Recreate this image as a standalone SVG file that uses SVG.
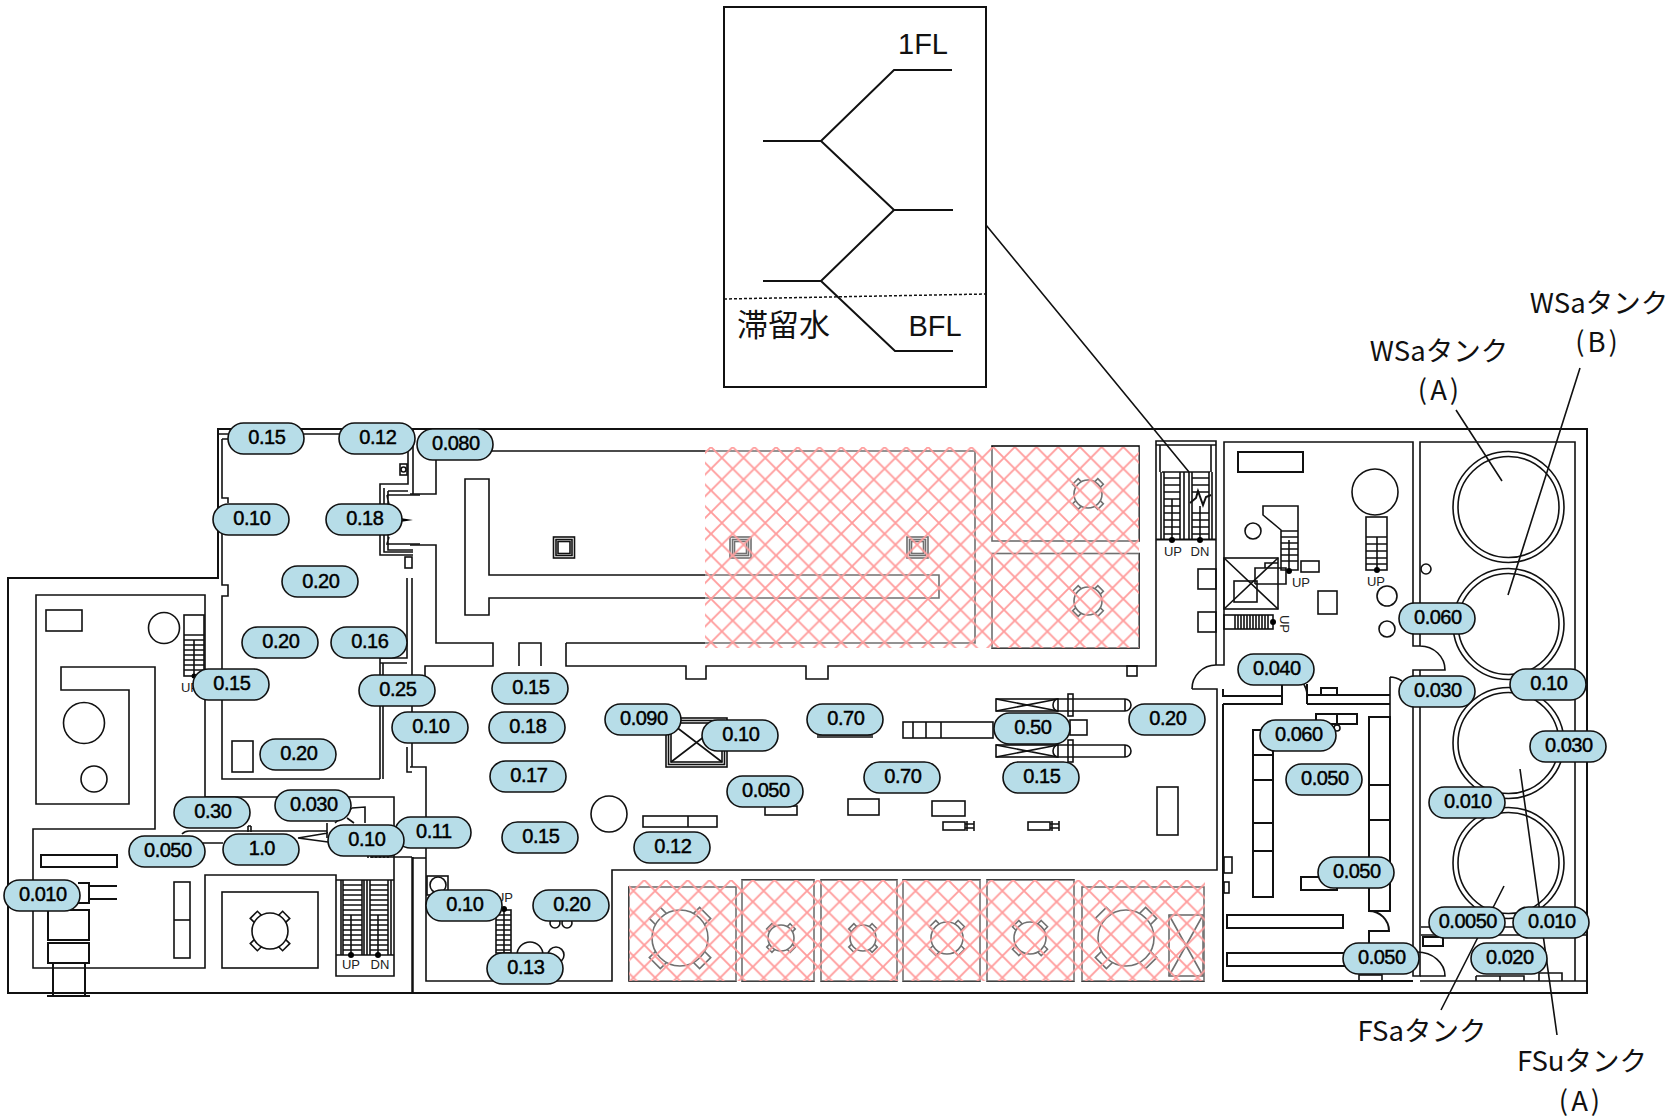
<svg xmlns="http://www.w3.org/2000/svg" width="1672" height="1119" viewBox="0 0 1672 1119">
<style>
.l{fill:none;stroke:#111;stroke-width:1.6}
.h{fill:none;stroke:#111;stroke-width:2}
.w{fill:#fff;stroke:#111;stroke-width:1.5}
.d{fill:#000}
.n{fill:none;stroke:#111;stroke-width:1.6;vector-effect:non-scaling-stroke}
.c{fill:#fff;stroke:#111;stroke-width:1.6;vector-effect:non-scaling-stroke}
.p{fill:#b7dde8;stroke:#111;stroke-width:1.6}
.t{font-family:"Liberation Sans",Arial,sans-serif;font-size:20px;fill:#000;stroke:#000;stroke-width:.45;text-anchor:middle;letter-spacing:-.5px;transform:translate(.8px,-.6px)}
.s{font-family:"Liberation Sans",Arial,sans-serif;font-size:13px;fill:#222;text-anchor:middle}
.j{font-family:"Noto Sans CJK JP","Liberation Sans",sans-serif;font-size:27.500px;fill:#111;text-anchor:middle}
.k{font-family:"Liberation Sans","Noto Sans CJK JP",sans-serif;font-size:29px;fill:#111;text-anchor:middle}
</style>
<defs>
<pattern id="x" width="21.700" height="21.700" patternUnits="userSpaceOnUse" x="711" y="447">
<path d="M0 21.700L21.700 0M0 0L21.700 21.700" fill="none" stroke="#ff9c9c" stroke-width="1.900"/>
</pattern>
<pattern id="y" width="21.700" height="21.700" patternUnits="userSpaceOnUse" x="1100" y="880">
<path d="M0 21.700L21.700 0M0 0L21.700 21.700" fill="none" stroke="#ff9c9c" stroke-width="1.900"/>
</pattern>
<g id="pump">
<g><rect x="-.28" y="-1.27" width=".56" height=".37" class="n" transform="rotate(45)"/><rect x="-.28" y="-1.27" width=".56" height=".37" class="n" transform="rotate(135)"/><rect x="-.28" y="-1.27" width=".56" height=".37" class="n" transform="rotate(225)"/><rect x="-.28" y="-1.27" width=".56" height=".37" class="n" transform="rotate(315)"/></g>
<circle r="1" class="c"/>
</g>
<g id="col"><rect width="21" height="21" class="l"/><rect x="2.500" y="2.500" width="16" height="16" class="l"/><rect x="4.500" y="4.500" width="12" height="12" class="l"/></g>
<g id="mot">
<rect width="62" height="12" class="l"/><path d="M0 0L62 12M0 12L62 0" class="l"/>
<path d="M62 0H129M62 12H129M129 0A6 6 0 0 1 129 12V0" class="l"/><path d="M62 0A5 6 0 0 0 62 12" class="l"/>
<rect x="72" y="-5" width="5" height="22" class="l"/>
</g>
<g id="syr"><rect width="22" height="8" class="l"/><path d="M22 2H31M22 6H31M24 -1V9M31 -1V9" class="l"/></g>
</defs>

<g id="building">
<path class="h" d="M8 578H218V429H1587V993H8Z"/>
<path d="M412.500 857V993" stroke="#111" stroke-width="2.500" fill="none"/>
<path class="l" d="M218 434H413M222 439V498H228V503M222 519V585H228V596H222V779H380M228 439H222M413 430V494M408 434V484H380V555H413M384 488V552H413M388 491H408M387 495H420M387 495L389 505M389 537L387 544H420M388 491V550H413"/>
<path class="d" d="M400 518L413 520L400 522Z"/>
<rect x="400" y="464" width="7" height="11" class="l"/><circle cx="403.500" cy="469.500" r="2.500" class="l"/>
<rect x="405" y="557" width="7" height="11" class="l"/>
<path class="l" d="M407 578V658H380V779M412 578V767M383 663V779M380 663H407M407 747V772H412"/>
<rect x="232" y="741" width="21" height="31" class="l"/>
<path class="l" d="M36 595H205V797H394V976H336V875H205V968H33V829H155V667H61V690H129V804H36Z"/>
<rect x="46" y="610" width="36" height="21" class="l"/>
<circle cx="164" cy="628" r="15.500" class="l"/><circle cx="84" cy="723" r="20.500" class="l"/><circle cx="94" cy="779" r="13" class="l"/>
<rect x="184" y="615" width="20" height="61" class="l"/>
<path class="l" d="M184 635H204M184 640H204M184 645H204M184 650H204M184 655H204M184 660H204M184 665H204M184 670H204M194 640V676"/>
<circle cx="194" cy="676" r="2.500" class="d"/>
<text x="190" y="692" class="s">UP</text>
<rect x="41" y="855" width="76" height="12" class="h"/>
<path class="h" d="M78 883H89V903H78M89 886H117M89 899H117"/>
<rect x="48" y="910" width="41" height="30" class="h"/><rect x="48" y="943" width="41" height="20" class="h"/>
<path class="h" d="M53 963V996M85 963V996M47 996H90"/>
<rect x="174" y="882" width="16" height="76" class="l"/><path class="l" d="M174 920H190"/>
<rect x="222" y="892" width="96" height="76" class="l"/>
<use href="#pump" transform="translate(270 931) scale(18)"/>
<path class="l" d="M336 880H394M336 955H394M341 880V955M343 880V955M362 880V955M364 880V955M367 880V955M370 880V955M388 880V955M391 880V955"/>
<path class="l" d="M343 885H362M343 890H362M343 895H362M343 900H362M343 905H362M343 910H362M343 915H362M343 920H362M343 925H362M343 930H362M343 935H362M343 940H362M343 945H362M343 950H362M370 885H388M370 890H388M370 895H388M370 900H388M370 905H388M370 910H388M370 915H388M370 920H388M370 925H388M370 930H388M370 935H388M370 940H388M370 945H388M370 950H388M351 915V955M378 915V955"/>
<circle cx="351" cy="955" r="3" class="d"/><circle cx="378" cy="955" r="3" class="d"/>
<text x="351" y="969" class="s">UP</text><text x="380" y="969" class="s">DN</text>
<path class="l" d="M182 834Q185 831 189 831H327V838M203 843H223M298 838L328 833M298 838L328 842M327 823V831M352 808L365 807V823M347 818L354 823M352 808L335 823M370 857H412M248 826V832M251 826V832M248 826H251"/>
<path d="M368 855V858M372 855V858M376 855V858M380 855V858M384 855V858M388 855V858" class="l"/>
<path class="l" d="M436 451V494H410M410 545H436V643H493V666H425V680M519 666V643H541V666M566 643V666H686V679H706V666H806V679H828V666H1156V441H1216V665M566 643H975V451H436"/>
<path class="l" d="M465 479H489V575H939V598H489V615H465Z"/>
<use href="#col" x="553.500" y="537"/><use href="#col" x="730" y="537"/><use href="#col" x="907" y="537"/>
<rect x="992" y="446" width="147" height="95" class="l"/><rect x="992" y="553.500" width="147" height="94.500" class="l"/>
<use href="#pump" transform="translate(1088 494) scale(14)"/><use href="#pump" transform="translate(1088 601) scale(14)"/>
<rect x="1127" y="666" width="10" height="10" class="l"/>
<path class="l" d="M1156 445H1216M1160 445V472M1211 445V472M1162 472H1210M1161 472V539M1164 472V539M1180 472V539M1184 472V539M1189 472V539M1192 472V539M1209 472V539M1212 472V539"/>
<path class="l" d="M1164 478H1180M1164 485H1180M1164 492H1180M1164 499H1180M1164 506H1180M1164 513H1180M1164 520H1180M1164 527H1180M1164 534H1180M1192 478H1209M1192 485H1209M1192 492H1209M1192 513H1209M1192 520H1209M1192 527H1209M1192 534H1209M1172 499V539M1200 506V539"/>
<path class="h" d="M1190 503L1196 498L1198 491L1203 505L1206 497L1211 495M1156 539.500H1216"/>
<circle cx="1172" cy="540" r="3" class="d"/><circle cx="1200" cy="540" r="3" class="d"/>
<text x="1173" y="556" class="s">UP</text><text x="1200" y="556" class="s">DN</text>
<rect x="1198" y="569" width="18" height="20" class="l"/><rect x="1198" y="612" width="18" height="20" class="l"/>
<path class="l" d="M1216 665H1224V442H1413V646H1420V442H1575V981M1413 646H1420A25 24 0 0 1 1445 670H1413V976H1420V670M1192 689H1217V870H612V981H426V767H410M426 858H413"/>
<path class="l" d="M1216 665A24 24 0 0 0 1192 689"/>
<rect x="427" y="876" width="21" height="19" class="l"/><circle cx="438" cy="885" r="8" class="l"/>
<rect x="496" y="910" width="15" height="43" class="l"/>
<path class="l" d="M496 915H511M496 920H511M496 925H511M496 930H511M496 935H511M496 940H511M496 945H511M496 950H511M504 910V953"/>
<circle cx="504" cy="909" r="3" class="d"/><text x="504" y="902" class="s">UP</text>
<circle cx="555" cy="923" r="5" class="l"/><circle cx="567" cy="923" r="5" class="l"/><circle cx="530" cy="955" r="13" class="l"/><circle cx="556" cy="955" r="8" class="l"/>
<circle cx="609" cy="814" r="18" class="l"/>
<rect x="643" y="816" width="74" height="11" class="l"/><path class="l" d="M688 816V827"/>
<rect x="765" y="806" width="32" height="9" class="l"/>
<rect x="666" y="718" width="61" height="49" class="l"/><rect x="668.500" y="720.500" width="56" height="44" class="l"/><rect x="671" y="723" width="51" height="39" class="l"/><path class="l" d="M671 723L722 762M671 762L722 723"/>
<path class="l" d="M817 737H873M817 735H873"/>
<rect x="848" y="799" width="31" height="16" class="l"/><rect x="932" y="801" width="33" height="15" class="l"/>
<use href="#syr" x="943" y="822"/><use href="#syr" x="1028" y="822"/>
<rect x="1157" y="787" width="21" height="48" class="l"/>
<use href="#mot" x="996" y="699"/><use href="#mot" x="996" y="745"/>
<rect x="903" y="722" width="90" height="16" class="l"/><path class="l" d="M913 722V738M926 722V738M941 722V738"/>
<rect x="1070" y="720" width="17" height="15" class="l"/>
<rect x="629" y="887" width="107" height="94" class="l"/><use href="#pump" transform="translate(680 938) scale(28)"/>
<rect x="742" y="880" width="72" height="101" class="l"/><use href="#pump" transform="translate(781 938) scale(13)"/>
<rect x="821" y="880" width="76" height="101" class="l"/><use href="#pump" transform="translate(863 938) scale(13)"/>
<rect x="903" y="880" width="77" height="101" class="l"/><use href="#pump" transform="translate(947 938) scale(16)"/>
<rect x="987" y="880" width="87" height="101" class="l"/><use href="#pump" transform="translate(1030 938) scale(16)"/>
<rect x="1082" y="887" width="122" height="94" class="l"/><use href="#pump" transform="translate(1126 938) scale(28)"/>
<rect x="1169" y="915" width="34" height="61" class="l"/><path class="l" d="M1169 915L1203 976M1169 976L1203 915"/>
<rect x="1238" y="452" width="65" height="20" class="h"/>
<circle cx="1375" cy="492" r="23" class="l"/>
<rect x="1366" y="517" width="21" height="53" class="l"/>
<path class="l" d="M1366 537H1387M1366 544H1387M1366 551H1387M1366 558H1387M1366 564H1387M1377 537V570"/>
<circle cx="1377" cy="570" r="3" class="d"/><text x="1376" y="586" class="s">UP</text>
<circle cx="1387" cy="596" r="10" class="l"/><circle cx="1387" cy="629" r="8" class="l"/>
<rect x="1318" y="591" width="19" height="23" class="l"/>
<circle cx="1253" cy="531" r="8" class="l"/>
<path class="l" d="M1263 506H1298V570H1281V530L1263 515Z"/>
<path class="l" d="M1281 531H1298M1281 537H1298M1281 543H1298M1281 549H1298M1281 555H1298M1281 561H1298M1289 540V571"/>
<circle cx="1289" cy="571" r="3" class="d"/><text x="1301" y="587" class="s">UP</text>
<rect x="1301" y="561" width="18" height="11" class="l"/>
<rect x="1224" y="558" width="54" height="51" class="l"/><path class="l" d="M1224 558L1278 609M1224 609L1278 558"/>
<rect x="1234" y="581" width="23" height="21" class="l"/><path class="l" d="M1255 584V568H1286V584H1255M1265 568V563H1278"/>
<rect x="1224" y="615" width="49" height="14" class="l"/>
<path class="l" d="M1235 615V629M1238 615V629M1241 615V629M1244 615V629M1247 615V629M1250 615V629M1253 615V629M1256 615V629M1259 615V629M1262 615V629M1265 615V629M1268 615V629"/>
<circle cx="1273" cy="622" r="3" class="d"/><text class="s" transform="translate(1280 624) rotate(90)">UP</text>
<path class="h" d="M1223 689V696H1282V684M1223 704H1282V696M1307 684V695H1390M1307 704V695M1307 704H1390M1223 704V981H1413"/>
<path class="l" d="M1303 683Q1307 689 1307 695M1390 677V718M1390 677Q1396 677 1402 681"/>
<rect x="1321" y="688" width="16" height="7" class="h"/>
<path class="h" d="M1316 724V714H1357V724ZM1337 714V724"/><circle cx="1337" cy="728" r="3" class="l"/>
<path class="h" d="M1253 730H1273V897H1253ZM1253 755H1273M1253 780H1273M1253 823H1273M1253 851H1273"/>
<rect x="1227" y="915" width="116" height="13" class="h"/><rect x="1227" y="953" width="130" height="13" class="h"/>
<rect x="1224" y="857" width="8" height="16" class="l"/><rect x="1224" y="882" width="5" height="11" class="l"/>
<rect x="1301" y="877" width="36" height="13" class="h"/>
<path class="h" d="M1369 717H1390V911H1369ZM1390 785H1369M1390 820H1369M1369 911A20 20 0 0 1 1389 931H1369V945"/>
<rect x="1359" y="975" width="23" height="6" class="l"/>
<path class="l" d="M1421 927H1587M1421 935H1587M1420 981H1587M1420 976H1445A28 24 0 0 0 1417 952"/>
<rect x="1423" y="937" width="20" height="9" class="h"/>
<path class="l" d="M1476 976V981M1476 976H1524V981M1500 976V981M1539 981V973H1562V981"/>
<circle cx="1508.500" cy="507" r="55.500" class="l"/><circle cx="1508.500" cy="507" r="50.500" class="l"/>
<circle cx="1508.500" cy="624" r="55.500" class="l"/><circle cx="1508.500" cy="624" r="50.500" class="l"/>
<circle cx="1508.500" cy="743" r="55.500" class="l"/><circle cx="1508.500" cy="743" r="50.500" class="l"/>
<circle cx="1508.500" cy="863" r="55.500" class="l"/><circle cx="1508.500" cy="863" r="50.500" class="l"/>
<circle cx="1426" cy="569" r="5" class="l"/>
</g>

<g id="hatch">
<rect x="705" y="447" width="434" height="201" fill="#fff" fill-opacity=".4"/>
<rect x="705" y="447" width="434" height="201" fill="url(#x)"/>
<rect x="629" y="880" width="576" height="101" fill="#fff" fill-opacity=".4"/>
<rect x="629" y="880" width="576" height="101" fill="url(#y)"/>
</g>

<g id="inset">
<rect x="724" y="7" width="262" height="380" fill="#fff" stroke="#111" stroke-width="2"/>
<path class="h" d="M763 141H821L894 70H952M821 141L894 210H953M894 210L821 281H763M821 281L895 351H953"/>
<path d="M724 299L986 294" stroke="#111" stroke-width="1.500" stroke-dasharray="3 2" fill="none"/>
<text x="923" y="54" class="k">1FL</text>
<text x="935" y="336" class="k">BFL</text>
<text x="783.500" y="336" font-family="Noto Sans CJK JP,sans-serif" font-size="31" fill="#111" text-anchor="middle">滞留水</text>
</g>

<g id="connectors">
<path class="l" d="M986 225L1189 472M1456 410L1502 481M1580 368L1508 595M1504 886L1441 1010M1520 769L1557 1035"/>
</g>

<g id="labels">
<text x="1439" y="361" class="j">WSaタンク</text>
<text x="1440" y="400" class="j" letter-spacing="3">(A)</text>
<text x="1599" y="313" class="j">WSaタンク</text>
<text x="1598" y="352" class="j" letter-spacing="3">(B)</text>
<text x="1422" y="1041" class="j">FSaタンク</text>
<text x="1582" y="1071" class="j">FSuタンク</text>
<text x="1581" y="1111" class="j" letter-spacing="3">(A)</text>
</g>

<g id="v01"><rect x="228" y="423" width="76" height="31" rx="15.500" class="p"/><text x="266" y="445" class="t">0.15</text></g>
<g id="v02"><rect x="339" y="423" width="76" height="31" rx="15.500" class="p"/><text x="377" y="445" class="t">0.12</text></g>
<g id="v03"><rect x="417" y="429" width="76" height="31" rx="15.500" class="p"/><text x="455" y="451" class="t">0.080</text></g>
<g id="v04"><rect x="213" y="504" width="76" height="31" rx="15.500" class="p"/><text x="251" y="526" class="t">0.10</text></g>
<g id="v05"><rect x="326" y="504" width="76" height="31" rx="15.500" class="p"/><text x="364" y="526" class="t">0.18</text></g>
<g id="v06"><rect x="282" y="566" width="76" height="31" rx="15.500" class="p"/><text x="320" y="589" class="t">0.20</text></g>
<g id="v07"><rect x="242" y="627" width="76" height="31" rx="15.500" class="p"/><text x="280" y="649" class="t">0.20</text></g>
<g id="v08"><rect x="331" y="627" width="76" height="31" rx="15.500" class="p"/><text x="369" y="649" class="t">0.16</text></g>
<g id="v09"><rect x="193" y="669" width="76" height="31" rx="15.500" class="p"/><text x="231" y="691" class="t">0.15</text></g>
<g id="v10"><rect x="359" y="675" width="76" height="31" rx="15.500" class="p"/><text x="397" y="697" class="t">0.25</text></g>
<g id="v11"><rect x="260" y="739" width="76" height="31" rx="15.500" class="p"/><text x="298" y="761" class="t">0.20</text></g>
<g id="v12"><rect x="174" y="797" width="76" height="31" rx="15.500" class="p"/><text x="212" y="819" class="t">0.30</text></g>
<g id="v13"><rect x="275" y="790" width="76" height="31" rx="15.500" class="p"/><text x="313" y="812" class="t">0.030</text></g>
<g id="v14"><rect x="129" y="836" width="76" height="31" rx="15.500" class="p"/><text x="167" y="858" class="t">0.050</text></g>
<g id="v15"><rect x="223" y="834" width="76" height="31" rx="15.500" class="p"/><text x="261" y="856" class="t">1.0</text></g>
<g id="v17"><rect x="395" y="817" width="76" height="31" rx="15.500" class="p"/><text x="433" y="839" class="t">0.11</text></g>
<g id="v16"><rect x="328" y="825" width="76" height="31" rx="15.500" class="p"/><text x="366" y="847" class="t">0.10</text></g>
<g id="v18"><rect x="4" y="880" width="76" height="31" rx="15.500" class="p"/><text x="42" y="902" class="t">0.010</text></g>
<g id="v19"><rect x="392" y="712" width="76" height="31" rx="15.500" class="p"/><text x="430" y="734" class="t">0.10</text></g>
<g id="v20"><rect x="492" y="673" width="76" height="31" rx="15.500" class="p"/><text x="530" y="695" class="t">0.15</text></g>
<g id="v21"><rect x="489" y="712" width="76" height="31" rx="15.500" class="p"/><text x="527" y="734" class="t">0.18</text></g>
<g id="v22"><rect x="490" y="761" width="76" height="31" rx="15.500" class="p"/><text x="528" y="783" class="t">0.17</text></g>
<g id="v23"><rect x="502" y="822" width="76" height="31" rx="15.500" class="p"/><text x="540" y="844" class="t">0.15</text></g>
<g id="v24"><rect x="605" y="704" width="76" height="31" rx="15.500" class="p"/><text x="643" y="726" class="t">0.090</text></g>
<g id="v25"><rect x="702" y="720" width="76" height="31" rx="15.500" class="p"/><text x="740" y="742" class="t">0.10</text></g>
<g id="v26"><rect x="727" y="776" width="76" height="31" rx="15.500" class="p"/><text x="765" y="798" class="t">0.050</text></g>
<g id="v27"><rect x="634" y="832" width="76" height="31" rx="15.500" class="p"/><text x="672" y="854" class="t">0.12</text></g>
<g id="v28"><rect x="426" y="890" width="76" height="31" rx="15.500" class="p"/><text x="464" y="912" class="t">0.10</text></g>
<g id="v29"><rect x="533" y="890" width="76" height="31" rx="15.500" class="p"/><text x="571" y="912" class="t">0.20</text></g>
<g id="v30"><rect x="487" y="953" width="76" height="31" rx="15.500" class="p"/><text x="525" y="975" class="t">0.13</text></g>
<g id="v31"><rect x="807" y="704" width="76" height="31" rx="15.500" class="p"/><text x="845" y="726" class="t">0.70</text></g>
<g id="v32"><rect x="994" y="713" width="76" height="31" rx="15.500" class="p"/><text x="1032" y="735" class="t">0.50</text></g>
<g id="v33"><rect x="1129" y="704" width="76" height="31" rx="15.500" class="p"/><text x="1167" y="726" class="t">0.20</text></g>
<g id="v34"><rect x="864" y="762" width="76" height="31" rx="15.500" class="p"/><text x="902" y="784" class="t">0.70</text></g>
<g id="v35"><rect x="1003" y="762" width="76" height="31" rx="15.500" class="p"/><text x="1041" y="784" class="t">0.15</text></g>
<g id="v36"><rect x="1238" y="654" width="76" height="31" rx="15.500" class="p"/><text x="1276" y="676" class="t">0.040</text></g>
<g id="v37"><rect x="1260" y="720" width="76" height="31" rx="15.500" class="p"/><text x="1298" y="742" class="t">0.060</text></g>
<g id="v38"><rect x="1286" y="764" width="76" height="31" rx="15.500" class="p"/><text x="1324" y="786" class="t">0.050</text></g>
<g id="v39"><rect x="1318" y="857" width="76" height="31" rx="15.500" class="p"/><text x="1356" y="879" class="t">0.050</text></g>
<g id="v40"><rect x="1343" y="943" width="76" height="31" rx="15.500" class="p"/><text x="1381" y="965" class="t">0.050</text></g>
<g id="v41"><rect x="1399" y="603" width="76" height="31" rx="15.500" class="p"/><text x="1437" y="625" class="t">0.060</text></g>
<g id="v42"><rect x="1399" y="676" width="76" height="31" rx="15.500" class="p"/><text x="1437" y="698" class="t">0.030</text></g>
<g id="v43"><rect x="1510" y="669" width="76" height="31" rx="15.500" class="p"/><text x="1548" y="691" class="t">0.10</text></g>
<g id="v44"><rect x="1530" y="731" width="76" height="31" rx="15.500" class="p"/><text x="1568" y="753" class="t">0.030</text></g>
<g id="v45"><rect x="1429" y="787" width="76" height="31" rx="15.500" class="p"/><text x="1467" y="809" class="t">0.010</text></g>
<g id="v46"><rect x="1429" y="907" width="76" height="31" rx="15.500" class="p"/><text x="1467" y="929" class="t">0.0050</text></g>
<g id="v47"><rect x="1513" y="907" width="76" height="31" rx="15.500" class="p"/><text x="1551" y="929" class="t">0.010</text></g>
<g id="v48"><rect x="1471" y="943" width="76" height="31" rx="15.500" class="p"/><text x="1509" y="965" class="t">0.020</text></g>
</svg>
